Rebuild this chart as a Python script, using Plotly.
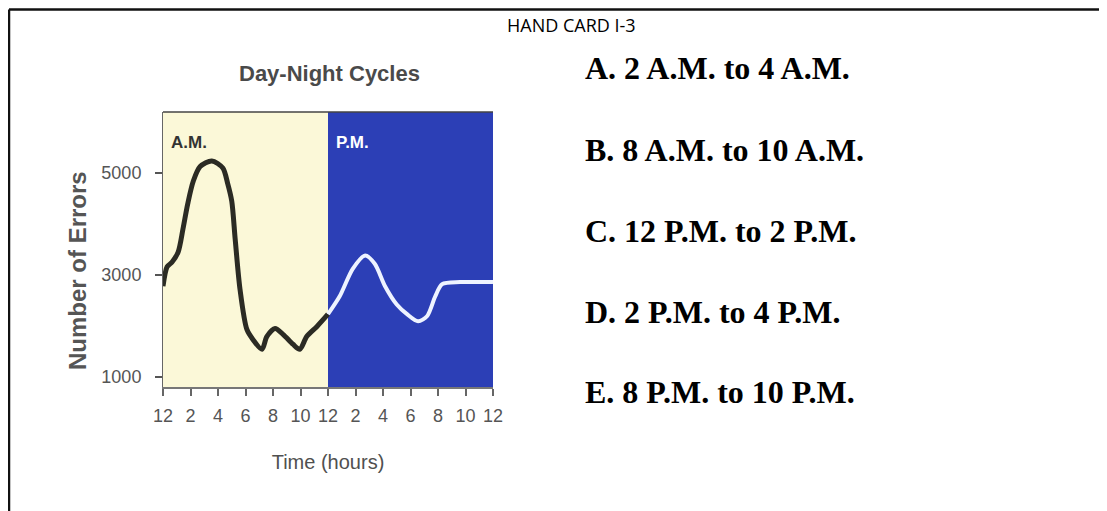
import plotly.graph_objects as go

# ---- data ----
am_hours = [0, 0.3, 0.65, 1.1, 1.45, 1.8, 2.2, 2.7, 3.55, 4.35, 4.7, 5.0, 5.25, 5.6, 6.1, 6.55, 7.2, 7.55, 8.15, 8.75, 9.45, 9.95, 10.45, 11.2, 12.0]
am_errors = [2780, 3160, 3250, 3450, 3900, 4400, 4840, 5130, 5240, 5100, 4800, 4450, 3700, 2720, 1930, 1730, 1540, 1790, 1950, 1830, 1640, 1540, 1790, 1990, 2230]
pm_hours = [12.0, 12.85, 13.8, 14.7, 15.4, 16.15, 17.0, 17.75, 18.55, 19.2, 19.8, 20.3, 21.6, 24.0]
pm_errors = [2230, 2580, 3120, 3380, 3220, 2780, 2420, 2230, 2090, 2190, 2580, 2820, 2860, 2860]
periods = ["A.M.", "P.M."]
period_start = [0, 12]
period_end = [12, 24]
x_tick_vals = list(range(0, 25, 2))
x_tick_text = ["12", "2", "4", "6", "8", "10", "12", "2", "4", "6", "8", "10", "12"]
y_tick_vals = [1000, 3000, 5000]
choices = ["A. 2 A.M. to 4 A.M.", "B. 8 A.M. to 10 A.M.", "C. 12 P.M. to 2 P.M.",
           "D. 2 P.M. to 4 P.M.", "E. 8 P.M. to 10 P.M."]

W, H = 1107, 511
OFF = 8  # page body margin
# plot area in screen pixels
L, R, T, B = 163, 493, 112, 387


def px(x):
    return (x - L) / (R - L)


def py(y):
    return (B - y) / (B - T)


fig = go.Figure()

fills = ["#fbf8d8", "#2c3fb6"]
label_colors = ["#333333", "#ffffff"]
for name, s, e, fc, lc in zip(periods, period_start, period_end, fills, label_colors):
    fig.add_shape(type="rect", xref="x", yref="paper", x0=s, x1=e, y0=0, y1=1,
                  fillcolor=fc, line_width=0, layer="below")
    fig.add_annotation(x=s, xref="x", xshift=6, y=py(142), yref="paper", text=name,
                       showarrow=False, xanchor="left", yanchor="middle",
                       font=dict(family="Liberation Sans, Arial", size=17, color=lc, weight="bold"))

fig.add_trace(go.Scatter(x=am_hours, y=am_errors, mode="lines",
                         line=dict(color="#2b2b24", width=5, shape="spline", smoothing=0.8),
                         hoverinfo="skip"))
fig.add_trace(go.Scatter(x=pm_hours, y=pm_errors, mode="lines",
                         line=dict(color="#eef3ff", width=4, shape="spline", smoothing=0.8),
                         hoverinfo="skip"))

# top border of plot
fig.add_shape(type="line", xref="paper", yref="paper", x0=0, x1=1, y0=1, y1=1,
              line=dict(color="#444444", width=1.5))

# page frame
fig.add_shape(type="line", xref="paper", yref="paper", x0=px(9), x1=px(W + 20), y0=py(9.5), y1=py(9.5),
              line=dict(color="#111111", width=2.5))
fig.add_shape(type="line", xref="paper", yref="paper", x0=px(9), x1=px(9), y0=py(9.5), y1=py(H + 20),
              line=dict(color="#111111", width=2.5))

fig.add_annotation(x=px(571), y=py(25), xref="paper", yref="paper", text="HAND CARD I-3",
                   showarrow=False, xanchor="center", yanchor="middle",
                   font=dict(family="Open Sans", size=18, color="#000000"))

fig.add_annotation(x=px(329), y=py(73), xref="paper", yref="paper", text="Day-Night Cycles",
                   showarrow=False, xanchor="center", yanchor="middle",
                   font=dict(family="Liberation Sans, Arial", size=22, color="#4a4a4a", weight="bold"))

# y-axis title
fig.add_annotation(x=px(77), y=py(271), xref="paper", yref="paper", text="<b>Number of Errors</b>",
                   textangle=-90, showarrow=False, xanchor="center", yanchor="middle",
                   font=dict(family="Liberation Sans, Arial", size=24, color="#555555"))

ys = [68, 150, 231, 312, 392]
for txt, yy in zip(choices, ys):
    fig.add_annotation(x=px(583), y=py(yy), xref="paper", yref="paper", text=txt,
                       showarrow=False, xanchor="left", yanchor="middle",
                       font=dict(family="Liberation Serif, Times New Roman", size=32,
                                 color="#000000", weight="bold"))

fig.update_layout(
    width=W, height=H,
    margin=dict(l=L - OFF, r=W - (R - OFF), t=T - OFF, b=H - (B - OFF), pad=0),
    paper_bgcolor="white", plot_bgcolor="rgba(0,0,0,0)",
    showlegend=False,
    xaxis=dict(range=[0, 24], tickvals=x_tick_vals, ticktext=x_tick_text,
               showgrid=False, zeroline=False, ticks="outside", ticklen=7, tickwidth=1.5,
               tickcolor="#666666", showline=True, linecolor="#777777", linewidth=1.5,
               ticklabelstandoff=5,
               tickfont=dict(family="Liberation Sans, Arial", size=18, color="#555555"),
               title=dict(text="Time (hours)", standoff=30,
                          font=dict(family="Liberation Sans, Arial", size=20, color="#505050"))),
    yaxis=dict(range=[800, 6200], tickvals=y_tick_vals,
               showgrid=False, zeroline=False, ticks="outside", ticklen=7, tickwidth=1.5,
               tickcolor="#555555", showline=True, linecolor="#666666", linewidth=1,
               ticklabelstandoff=10,
               tickfont=dict(family="Liberation Sans, Arial", size=18, color="#555555")),
)

fig.write_html("out.html")
